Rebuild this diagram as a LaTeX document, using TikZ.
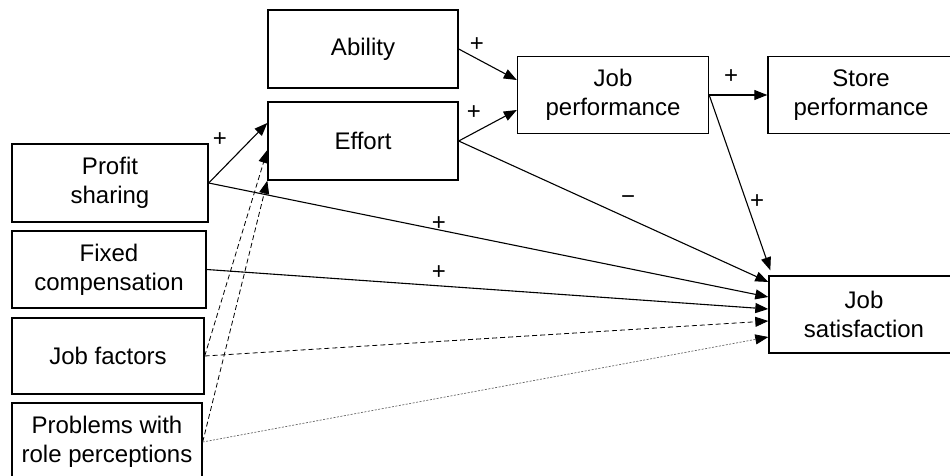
\documentclass[tikz,border=0pt]{standalone}
\usepackage{fontspec}
\setmainfont{Liberation Sans}
\usetikzlibrary{arrows.meta}
\begin{document}
\begin{tikzpicture}[x=1pt,y=-1pt,
  box/.style={draw,line width=1.4pt,inner sep=0pt,align=center,
    font=\fontsize{24}{29}\selectfont},
  lbl/.style={inner sep=0pt,font=\fontsize{24}{29}\selectfont},
  arr/.style={line width=1.1pt,-{Triangle[length=13pt,width=10pt]}},
  dsh/.style={arr,dash pattern=on 5pt off 3pt,line width=0.8pt},
  dtt/.style={line width=0.7pt,dash pattern=on 2pt off 1.5pt,draw=black!60,
    -{Triangle[length=13pt,width=10pt,color=black]}}]
\useasboundingbox (0,0) rectangle (950,476);
\clip (0,0) rectangle (950,476);
\node[box,minimum width=190pt,minimum height=78pt] (ability) at (363,49) {Ability};
\node[box,minimum width=190pt,minimum height=78pt] (effort) at (363,141) {Effort};
\node[box,minimum width=191pt,minimum height=77pt] (jobperf) at (613,95) {Job\\performance};
\node[box,minimum width=186pt,minimum height=77pt] (store) at (861,95) {Store\\performance};
\node[box,minimum width=190pt,minimum height=77pt] (jobsat) at (864,314.5) {Job\\satisfaction};
\node[box,minimum width=196pt,minimum height=78pt] (profit) at (110,183) {Profit\\sharing};
\node[box,minimum width=194pt,minimum height=77pt] (fixed) at (109,269.5) {Fixed\\compensation};
\node[box,minimum width=192pt,minimum height=76pt] (jobfac) at (108,356) {Job factors};
\node[box,minimum width=190pt,minimum height=78pt] (probl) at (107,442) {Problems with\\role perceptions};

\draw[arr] (ability.east) -- ([yshift=15pt]jobperf.west);
\draw[arr] (effort.east) -- ([yshift=-15pt]jobperf.west);
\draw[arr] (jobperf.east) -- (store.west);
\draw[arr] (jobperf.east) -- ([xshift=2pt,yshift=5pt]jobsat.north west);
\draw[arr] (effort.east) -- ([yshift=32.5pt]jobsat.west);
\draw[arr] (profit.east) -- ([yshift=18pt]effort.west);
\draw[arr] (profit.east) -- ([yshift=17.5pt]jobsat.west);
\draw[arr] (fixed.east) -- ([yshift=5.5pt]jobsat.west);
\draw[dsh] (jobfac.east) -- ([yshift=-9pt]effort.west);
\draw[dsh] (jobfac.east) -- ([yshift=-6.5pt]jobsat.west);
\draw[dsh] (probl.east) -- (effort.south west);
\draw[dtt] (probl.east) -- ([yshift=-22.5pt]jobsat.west);

\node[lbl] (p1) at (477,45) {+};
\node[lbl] (p2) at (474,113) {+};
\node[lbl] (p3) at (220,140) {+};
\node[lbl] (p4) at (731,77) {+};
\node[lbl] (p5) at (757,202) {+};
\node[lbl] (m1) at (628,200) {\char"2212};
\node[lbl] (p6) at (439,224) {+};
\node[lbl] (p7) at (439,273) {+};
\end{tikzpicture}
\end{document}
